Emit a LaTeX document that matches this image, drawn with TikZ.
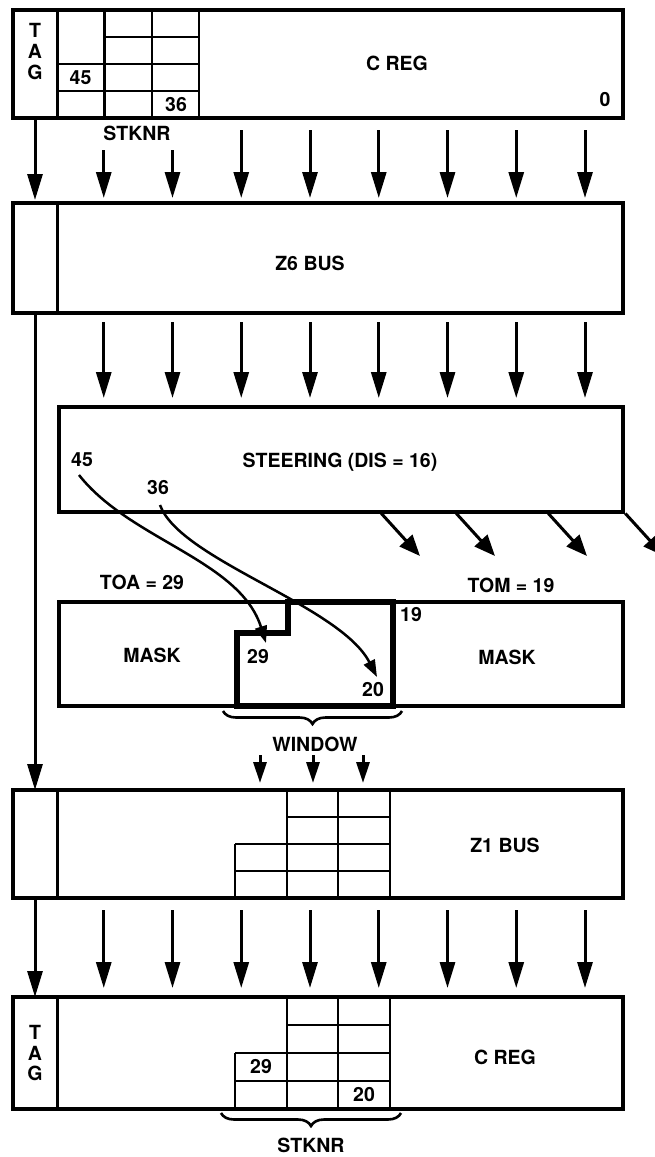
\documentclass[tikz,border=0pt]{standalone}
\usepackage{fontspec}
\setmainfont{TeX Gyre Heros}
\usetikzlibrary{arrows.meta,decorations.pathreplacing}
\begin{document}
\begin{tikzpicture}[x=1pt,y=-1pt,
  box/.style={draw, line width=3.6pt, rectangle, anchor=north west, inner sep=0pt, outer sep=0pt},
  grid/.style={line width=2.3pt},
  div/.style={line width=3pt},
  lbl/.style={font=\fontsize{19.5}{20}\selectfont\bfseries, inner sep=0pt},
  arr/.style={line width=3pt, -{Triangle[length=26pt,width=15pt]}},
  sarr/.style={line width=3pt, -{Triangle[length=21pt,width=13pt]}},
  darr/.style={line width=3pt, -{Triangle[length=21pt,width=17pt]}},
  carr/.style={line width=2.5pt, -{Triangle[length=17pt,width=12pt]}},
  brc/.style={decorate, decoration={brace, amplitude=13pt}, line width=2.6pt},
]
\useasboundingbox (0,0) rectangle (655,1157);

% ---------- top C REG ----------
\node[box, minimum width=610pt, minimum height=108pt] (creg) at (13,10) {};
\draw[div] ([xshift=44pt]creg.north west) -- ([xshift=44pt]creg.south west);
\draw[grid] (104.5,10) -- (104.5,118) (152,10) -- (152,118) (199,10) -- (199,118);
\draw[grid] (104.5,37) -- (199,37) (57,64) -- (199,64) (57,91) -- (199,91);
\node[lbl] (tagT) at (35,30) {T};
\node[lbl] (tagA) at (35,51) {A};
\node[lbl] (tagG) at (35,72) {G};
\node[lbl] (n45a) at (80.5,77.5) {45};
\node[lbl] (n36a) at (176,104.5) {36};
\node[lbl] (cregtxt) at (397,63) {C REG};
\node[lbl] (zero) at (605,100) {0};
\node[lbl] (stknr1) at (137,133) {STKNR};

% ---------- Z6 BUS ----------
\node[box, minimum width=610pt, minimum height=110pt] (z6) at (13,203) {};
\draw[div] ([xshift=44pt]z6.north west) -- ([xshift=44pt]z6.south west);
\node[lbl] (z6txt) at (310,263) {Z6 BUS};

% arrows top -> Z6
\draw[arr, shorten >=3pt] ([xshift=22pt]creg.south west) -- ([xshift=22pt]z6.north west);
\foreach \i/\s in {1/32,2/32,3/12,4/12,5/12,6/12,7/12,8/12}{
  \draw[arr, shorten <=\s pt, shorten >=5pt] ([xshift={22+68.75*\i}]creg.south west) -- ([xshift={22+68.75*\i}]z6.north west);
}

% ---------- STEERING ----------
\node[box, minimum width=564pt, minimum height=105pt] (steer) at (59,407) {};
\node[lbl] (steertxt) at (340,462) {STEERING (DIS = 16)};
\node[lbl] (n45b) at (82,460) {45};
\node[lbl] (n36b) at (158,488) {36};

\foreach \i in {1,...,8}{
  \draw[arr, shorten <=9pt, shorten >=9pt] ([xshift={22+68.75*\i}]z6.south west) -- ([xshift={-24+68.75*\i}]steer.north west);
}

% diagonal arrows
\foreach \s in {321,396,488,565}{
  \draw[darr, shorten <=2pt] ([xshift=\s pt]steer.south west) -- ++(40,44);
}

\node[lbl] (toa) at (142,582) {TOA = 29};
\node[lbl] (tom) at (511,585) {TOM = 19};

% ---------- MASK / WINDOW ----------
\node[box, minimum width=564pt, minimum height=104pt] (mask) at (59,602) {};
\draw[line width=5.5pt, line join=miter] (237,706) -- (237,633) -- (288,633) -- (288,602) -- (393,602) -- (393,706) -- cycle;
\node[lbl] (maskl) at (152,655) {MASK};
\node[lbl] (maskr) at (507,657) {MASK};
\node[lbl] (n29w) at (258,657) {29};
\node[lbl] (n20w) at (373,690) {20};
\node[lbl] (n19) at (411,615) {19};

% curves
\coordinate (c1s) at (79,475);
\coordinate (c1e) at (266,643);
\coordinate (c2s) at (160,505);
\coordinate (c2e) at (377,677);
\draw[carr] (c1s) .. controls (130,540) and (240,560) .. (c1e);
\draw[carr] (c2s) .. controls (180,560) and (340,605) .. (c2e);

% window brace
\draw[brc] (402,711) -- (223,711);
\node[lbl] (windowtxt) at (315,744) {WINDOW};

% ---------- Z1 BUS ----------
\node[box, minimum width=610pt, minimum height=108pt] (z1) at (13,790) {};
\draw[div] ([xshift=44pt]z1.north west) -- ([xshift=44pt]z1.south west);
\draw[grid] (235,844) -- (235,898) (287,790) -- (287,898) (338,790) -- (338,898) (390,790) -- (390,898);
\draw[grid] (287,817) -- (390,817) (235,844) -- (390,844) (235,871) -- (390,871);
\node[lbl] (z1txt) at (505,845) {Z1 BUS};

\draw[arr] ([xshift=22pt]z6.south west) -- ([xshift=22pt]z1.north west);
\foreach \s in {247,300,350}{
  \draw[sarr, shorten >=7pt] ([xshift=\s pt,yshift=35pt]z1.north west) -- ([xshift=\s pt]z1.north west);
}

% ---------- bottom C REG ----------
\node[box, minimum width=610pt, minimum height=112pt] (creg2) at (13,997) {};
\draw[div] ([xshift=44pt]creg2.north west) -- ([xshift=44pt]creg2.south west);
\draw[grid] (235,1053) -- (235,1109) (287,997) -- (287,1109) (338,997) -- (338,1109) (390,997) -- (390,1109);
\draw[grid] (287,1025) -- (390,1025) (235,1053) -- (390,1053) (235,1081) -- (390,1081);
\node[lbl] (tagT2) at (35,1032) {T};
\node[lbl] (tagA2) at (35,1053) {A};
\node[lbl] (tagG2) at (35,1073) {G};
\node[lbl] (n29b) at (261,1067) {29};
\node[lbl] (n20b) at (364,1095) {20};
\node[lbl] (creg2txt) at (505,1057) {C REG};

\draw[arr] ([xshift=22pt]z1.south west) -- ([xshift=22pt]creg2.north west);
\foreach \i in {1,...,8}{
  \draw[arr, shorten <=12pt, shorten >=9pt] ([xshift={22+68.75*\i}]z1.south west) -- ([xshift={22+68.75*\i}]creg2.north west);
}

\draw[brc] (401,1113) -- (221,1113);
\node[lbl] (stknr2) at (311,1145) {STKNR};
\end{tikzpicture}
\end{document}
